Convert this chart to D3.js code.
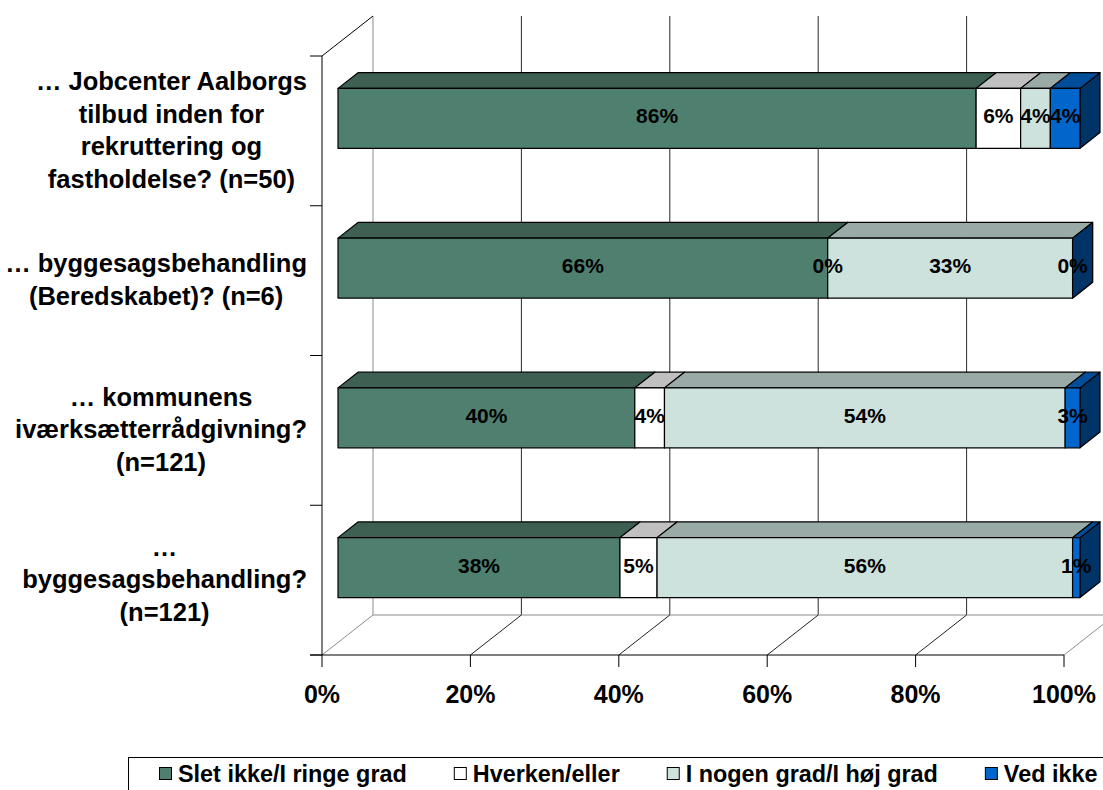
<!DOCTYPE html>
<html>
<head>
<meta charset="utf-8">
<script src="https://cdn.jsdelivr.net/npm/d3@7"></script>
<style>
  html, body { margin: 0; padding: 0; background: #fff; }
  svg { display: block; font-family: "Liberation Sans", Arial, sans-serif; }
</style>
</head>
<body>
<svg id="chart" width="1103" height="790"></svg>
<script>
// Survey categories, top to bottom
const categories = [
  ["… Jobcenter Aalborgs", "tilbud inden for", "rekruttering og", "fastholdelse? (n=50)"],
  ["… byggesagsbehandling", "(Beredskabet)? (n=6)"],
  ["… kommunens", "iværksætterrådgivning?", "(n=121)"],
  ["…", "byggesagsbehandling?", "(n=121)"]
];

// Answer groups (series), shares in percent per category
const seriesNames = ["Slet ikke/I ringe grad", "Hverken/eller", "I nogen grad/I høj grad", "Ved ikke"];
const sletIkke   = [86, 66, 40, 38];
const hverken    = [6, 0, 4, 5];
const iNogenGrad = [4, 33, 54, 56];
const vedIkke    = [4, 0, 3, 1];

// Value axis ticks
const tickValues = [0, 20, 40, 60, 80, 100];

// Face colours per series: front, top, side
const faceColors = [
  { front: "#4f806f", top: "#3e6052", side: "#2f4a40" },
  { front: "#ffffff", top: "#c0c0c0", side: "#a6a6a6" },
  { front: "#cde2dd", top: "#9aaba7", side: "#7f8d8a" },
  { front: "#0066cc", top: "#004d99", side: "#003366" }
];

const svg = d3.select("#chart");

// Front plane of the 3D box
const frontTop = 56, frontBottom = 655;
const x = d3.scaleLinear().domain([0, 100]).range([322, 1064]).clamp(true);
const depth = { dx: 51, dy: -40 };          // full box depth vector
const barNear = 16 / 51, barFar = 36 / 51;  // bar depth span as fraction of box depth

const catIndex = d3.range(categories.length);
const y = d3.scaleBand().domain(catIndex).range([frontTop, frontBottom])
  .paddingInner(0.6).paddingOuter(0.3);
const yCat = d3.scaleBand().domain(catIndex).range([frontTop, frontBottom]);

const proj = (px, py, t) => [px + t * depth.dx, py + t * depth.dy];

// Rows for stacking
const rows = catIndex.map(i => ({
  [seriesNames[0]]: sletIkke[i],
  [seriesNames[1]]: hverken[i],
  [seriesNames[2]]: iNogenGrad[i],
  [seriesNames[3]]: vedIkke[i]
}));
const stacked = d3.stack().keys(seriesNames)(rows);

const grid = svg.append("g");

// Back wall vertical gridlines
grid.selectAll("line.back").data(tickValues).join("line")
  .attr("x1", d => proj(x(d), frontTop, 1)[0])
  .attr("x2", d => proj(x(d), frontBottom, 1)[0])
  .attr("y1", proj(0, frontTop, 1)[1])
  .attr("y2", proj(0, frontBottom, 1)[1])
  .attr("stroke", d => d === 0 ? "#8c8c8c" : "#2a2a2a")
  .attr("stroke-width", 1);

// Floor back edge
grid.append("line")
  .attr("x1", proj(x(0), frontBottom, 1)[0]).attr("y1", proj(0, frontBottom, 1)[1])
  .attr("x2", proj(x(100), frontBottom, 1)[0]).attr("y2", proj(0, frontBottom, 1)[1])
  .attr("stroke", "#8c8c8c");

// Floor depth lines
grid.selectAll("line.floor").data(tickValues).join("line")
  .attr("x1", d => x(d)).attr("y1", frontBottom)
  .attr("x2", d => proj(x(d), frontBottom, 1)[0]).attr("y2", proj(0, frontBottom, 1)[1])
  .attr("stroke", d => (d === 0 || d === 100) ? "#8c8c8c" : "#222");

// Left wall: front edge and top depth edge
grid.append("line")
  .attr("x1", x(0)).attr("y1", frontTop).attr("x2", x(0)).attr("y2", frontBottom)
  .attr("stroke", "#000");
grid.append("line")
  .attr("x1", x(0)).attr("y1", frontTop)
  .attr("x2", proj(x(0), frontTop, 1)[0]).attr("y2", proj(0, frontTop, 1)[1])
  .attr("stroke", "#000");

// Category axis ticks
const catTicks = catIndex.map(i => yCat(i)).concat([frontBottom]);
grid.selectAll("line.ctick").data(catTicks).join("line")
  .attr("x1", x(0) - 12).attr("x2", x(0))
  .attr("y1", d => d).attr("y2", d => d)
  .attr("stroke", "#000");

// Value axis line and ticks
grid.append("line")
  .attr("x1", x(0) - 12).attr("y1", frontBottom).attr("x2", x(100)).attr("y2", frontBottom)
  .attr("stroke", "#000");
grid.selectAll("line.vtick").data(tickValues).join("line")
  .attr("x1", d => x(d)).attr("x2", d => x(d))
  .attr("y1", frontBottom).attr("y2", frontBottom + 12)
  .attr("stroke", "#000");

grid.selectAll("text.vlabel").data(tickValues).join("text")
  .attr("x", d => x(d)).attr("y", 703)
  .attr("text-anchor", "middle")
  .attr("font-size", "25px").attr("font-weight", "bold")
  .text(d => d + "%");

// Bars: one group per category, segments drawn left to right
const bars = svg.append("g");
catIndex.forEach(ci => {
  const yTop = y(ci), yBot = y(ci) + y.bandwidth();
  stacked.forEach((s, si) => {
    const d = s[ci];
    const x0 = x(d[0]), x1 = x(d[1]);
    const c = faceColors[si];
    const fTL = proj(x0, yTop, barNear), fTR = proj(x1, yTop, barNear);
    const fBR = proj(x1, yBot, barNear), fBL = proj(x0, yBot, barNear);
    const bTL = proj(x0, yTop, barFar), bTR = proj(x1, yTop, barFar);
    const bBR = proj(x1, yBot, barFar);
    const poly = pts => pts.map(p => p.join(",")).join(" ");
    const g = bars.append("g").attr("stroke", "#000").attr("stroke-width", 1.2)
      .attr("stroke-linejoin", "round");
    // right side face
    g.append("polygon").attr("points", poly([fTR, bTR, bBR, fBR])).attr("fill", c.side);
    if (x1 > x0) {
      // top face
      g.append("polygon").attr("points", poly([fTL, bTL, bTR, fTR])).attr("fill", c.top);
      // front face
      g.append("polygon").attr("points", poly([fTL, fTR, fBR, fBL])).attr("fill", c.front);
    }
  });
});

// Value labels on the bar front faces
const labels = svg.append("g");
catIndex.forEach(ci => {
  const yMid = y(ci) + y.bandwidth() / 2;
  stacked.forEach(s => {
    const d = s[ci];
    const value = d.data[s.key];
    const xm = (x(d[0]) + x(d[1])) / 2;
    const p = proj(xm, yMid, barNear);
    labels.append("text")
      .attr("x", p[0]).attr("y", p[1] + 5)
      .attr("text-anchor", "middle")
      .attr("font-size", "21px").attr("font-weight", "bold")
      .attr("fill", "#000")
      .text(value + "%");
  });
});

// Category labels: block right-aligned to the axis, lines centred in the block
const catLabels = svg.append("g");
const lineH = 32.5, blockRight = 307;
categories.forEach((lines, ci) => {
  const cy = yCat(ci) + yCat.bandwidth() / 2;
  const g = catLabels.append("g");
  const texts = lines.map((ln, li) => g.append("text")
    .attr("y", cy - (lines.length - 1) / 2 * lineH + li * lineH + 8)
    .attr("text-anchor", "middle")
    .attr("font-size", "25.5px").attr("font-weight", "bold")
    .text(ln));
  const maxW = d3.max(texts, t => t.node().getComputedTextLength());
  texts.forEach(t => t.attr("x", blockRight - maxW / 2));
});

// Legend
const legend = svg.append("g");
legend.append("rect")
  .attr("x", 128.5).attr("y", 757.5).attr("width", 1100).attr("height", 100)
  .attr("fill", "#fff").attr("stroke", "#000");
let lx = 178;
seriesNames.forEach((name, si) => {
  legend.append("rect")
    .attr("x", lx - 18.5).attr("y", 767.5).attr("width", 12).attr("height", 12)
    .attr("fill", faceColors[si].front).attr("stroke", "#000");
  const t = legend.append("text")
    .attr("x", lx).attr("y", 782)
    .attr("font-size", "23.4px").attr("font-weight", "bold")
    .text(name);
  lx += t.node().getComputedTextLength() + 66;
});
</script>
</body>
</html>
